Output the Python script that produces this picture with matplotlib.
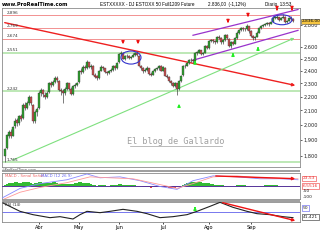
import matplotlib
matplotlib.use("Agg")
import matplotlib.pyplot as plt
from matplotlib.patches import Ellipse, Rectangle
from matplotlib.lines import Line2D
from matplotlib.ticker import NullLocator

# daily candles, 9 Mar - 30 Sep
opens = [1800, 1850, 1930, 1955, 1930, 1990, 2035, 2010, 2060, 2045, 2140, 2120, 2150, 2195, 2140, 2030, 2090,
         2115, 2230, 2250, 2215, 2200, 2235, 2300, 2290, 2310, 2345, 2320, 2250, 2240, 2230, 2260, 2300, 2255, 2220, 2280, 2290,
         2310, 2400, 2390, 2430, 2425, 2470, 2430, 2440, 2370, 2355, 2340, 2400, 2430, 2420, 2390, 2380, 2400, 2410, 2440, 2420,
         2470, 2540, 2550, 2500, 2520, 2525, 2505, 2515, 2535, 2545, 2525, 2440, 2420, 2400, 2410, 2420, 2375, 2370, 2400, 2415, 2420, 2440,
         2400, 2425, 2360, 2350, 2320, 2300, 2280, 2300, 2260, 2320, 2365, 2440, 2440, 2460, 2490, 2490, 2480, 2550, 2550, 2570, 2540, 2550, 2610,
         2590, 2650, 2660, 2650, 2640, 2690, 2680, 2640, 2660, 2710, 2675, 2610, 2640, 2630, 2680, 2730, 2750, 2770, 2760, 2760, 2790,
         2740, 2700, 2680, 2690, 2730, 2770, 2790, 2800, 2810, 2820, 2810, 2830, 2870, 2870, 2875, 2850, 2870, 2880, 2830, 2840, 2870, 2860]
highs = [1850, 1940, 1965, 1970, 1995, 2045, 2050, 2070, 2075, 2150, 2160, 2170, 2215, 2205, 2145, 2100, 2125,
         2240, 2265, 2260, 2235, 2245, 2310, 2320, 2325, 2355, 2360, 2330, 2265, 2255, 2275, 2310, 2305, 2270, 2290, 2305, 2315,
         2410, 2420, 2445, 2450, 2485, 2475, 2455, 2445, 2385, 2365, 2410, 2445, 2440, 2425, 2400, 2410, 2420, 2450, 2445, 2470,
         2550, 2565, 2555, 2530, 2540, 2535, 2525, 2545, 2560, 2555, 2530, 2450, 2430, 2425, 2440, 2425, 2390, 2410, 2425, 2430, 2450, 2445,
         2440, 2430, 2375, 2360, 2330, 2310, 2315, 2305, 2330, 2370, 2445, 2455, 2470, 2500, 2505, 2500, 2560, 2565, 2585, 2575, 2560, 2620, 2620,
         2660, 2675, 2670, 2660, 2700, 2705, 2685, 2670, 2720, 2715, 2680, 2650, 2650, 2690, 2740, 2765, 2785, 2780, 2775, 2805, 2795,
         2750, 2710, 2700, 2740, 2780, 2800, 2810, 2820, 2830, 2825, 2840, 2885, 2890, 2900, 2880, 2880, 2905, 2885, 2850, 2880, 2885, 2870]
lows = [1765, 1845, 1915, 1915, 1925, 1980, 1995, 2000, 2025, 2040, 2100, 2110, 2140, 2140, 2015, 2010, 2060,
        2110, 2205, 2200, 2180, 2190, 2225, 2270, 2280, 2300, 2315, 2240, 2210, 2150, 2215, 2250, 2250, 2210, 2215, 2265, 2280,
        2305, 2375, 2380, 2405, 2415, 2420, 2415, 2365, 2340, 2325, 2335, 2395, 2405, 2380, 2370, 2375, 2390, 2400, 2410, 2415,
        2465, 2530, 2495, 2490, 2505, 2495, 2495, 2510, 2525, 2520, 2435, 2410, 2385, 2390, 2400, 2365, 2355, 2365, 2390, 2405, 2410, 2395,
        2395, 2355, 2340, 2315, 2290, 2270, 2270, 2215, 2250, 2315, 2360, 2425, 2435, 2455, 2475, 2465, 2475, 2535, 2545, 2530, 2530, 2545, 2580,
        2585, 2640, 2635, 2625, 2635, 2670, 2630, 2630, 2655, 2670, 2600, 2595, 2615, 2625, 2675, 2720, 2740, 2745, 2740, 2755, 2730,
        2690, 2665, 2660, 2685, 2725, 2760, 2780, 2790, 2800, 2795, 2805, 2825, 2855, 2860, 2840, 2845, 2865, 2820, 2815, 2835, 2850, 2825]
closes = [1845, 1935, 1950, 1930, 1985, 2030, 2010, 2060, 2040, 2140, 2120, 2150, 2200, 2150, 2030, 2090, 2110,
          2230, 2250, 2220, 2200, 2230, 2300, 2290, 2310, 2340, 2330, 2250, 2240, 2230, 2260, 2300, 2260, 2220, 2280, 2290, 2300,
          2400, 2390, 2430, 2420, 2470, 2430, 2440, 2370, 2350, 2340, 2400, 2430, 2420, 2390, 2380, 2400, 2410, 2440, 2420, 2460,
          2540, 2550, 2500, 2520, 2525, 2505, 2515, 2535, 2545, 2530, 2440, 2420, 2400, 2410, 2425, 2375, 2370, 2400, 2415, 2420, 2440, 2400,
          2430, 2360, 2350, 2320, 2300, 2280, 2300, 2260, 2320, 2360, 2440, 2440, 2460, 2490, 2490, 2480, 2550, 2550, 2570, 2540, 2550, 2610, 2590,
          2650, 2660, 2650, 2640, 2690, 2680, 2640, 2660, 2710, 2680, 2610, 2640, 2630, 2680, 2730, 2750, 2770, 2760, 2760, 2790, 2740,
          2700, 2680, 2690, 2730, 2770, 2790, 2800, 2810, 2820, 2810, 2830, 2870, 2870, 2875, 2850, 2870, 2880, 2830, 2840, 2870, 2860, 2836]

month_pos = [17, 37, 57, 79, 102, 123]
month_labels = ["Abr", "May", "Jun", "Jul", "Ago", "Sep"]
price_ticks = [1800, 1900, 2000, 2100, 2200, 2300, 2400, 2500, 2600, 2800]

# hand drawn levels
red_levels = [2896, 2769, 2674]
green_levels = [2551, 2242, 1765]

# MACD (12,26,9)
macd_x = [-1.5, 7.5, 17.5, 31, 41, 47.5, 57.5, 67.5, 77.5, 86, 94, 104, 116, 127.5, 137.5, 146.5]
macd_y = [-13, -3, 2, 6, 12, 8, 9, 5, -1, -4, 5, 10, 9, 7, 7, 6]
signal_x = [-1.5, 7.5, 17.5, 31, 42.5, 52.5, 64, 77.5, 86, 94, 104, 116, 127.5, 146.5]
signal_y = [-15, -7, -2, 3, 9, 8, 7, 1, -3, 2, 9, 10, 8, 7]
hist = [1, 2, 3, 3, 3, 4, 4, 3, 3, 4, 4,
        4, 4, 3, 2, 3, 3, 4, 4, 3, 3,
        3, 3, 3, 4, 4, 3, 2, 2, 2, 2,
        2, 2, 2, 2, 3, 3, 4, 4, 3, 3, 3, 3,
        2, 1, 1, 0, 1, 1, 1, 1, 0, 0, 1, 1, 1, 1,
        2, 2, 1, 1, 1, 1, 1, 1, 1, 0,
        -1, -1, -2, -2, -2, -2, -3, -2, -2, -2, -1, -1,
        -1, -2, -2, -3, -3, -3, -3, -2,
        -1, 0, 1, 2, 3, 3, 4, 4, 4, 4, 4, 4, 3, 3, 3, 3, 2, 2,
        1, 1, 1, 1, 1, 0, 0, -1, -1, 0, 0, 1, 1, 1, 1, 1, 0, 0, -1, -1,
        -1, -1, 0, 0, 0, 1, 1, 1, 1, 1, 1, 1, 0, 0, 0, 0, -1, -1, -1, -1]

# RSI (14)
rsi_x = [-1, 7.5, 14, 22.5, 27.5, 34, 37.5, 41, 47.5, 52.5, 59, 66, 71, 77.5, 84, 91, 96, 102.5, 107.5, 114, 121, 126, 132.5, 139, 144]
rsi_y = [77, 52, 42, 33, 36, 29, 42, 52, 48, 52, 58, 52, 45, 33, 36, 42, 52, 67, 79, 64, 52, 45, 42, 36, 33]

W, H = 320, 240
fig = plt.figure(figsize=(3.2, 2.4), dpi=100)
fig.patch.set_facecolor("white")


def box(x0, y0, x1, y1):
    return [x0 / W, 1 - y1 / H, (x1 - x0) / W, (y1 - y0) / H]


ax = fig.add_axes(box(2, 8, 300, 167))
ax_m = fig.add_axes(box(2, 173, 300, 199))
ax_r = fig.add_axes(box(2, 202, 300, 222))

for a in [ax, ax_m, ax_r]:
    a.set_xlim(-1.5, 147.5)
    for s in a.spines.values():
        s.set_color("#8a8a8a")
        s.set_linewidth(0.6)
    a.set_xticks([])
    a.tick_params(axis="y", labelsize=3.6, length=1.5, width=0.5, pad=0.8, colors="#222222")
    a.yaxis.tick_right()

# --- price panel
ax.set_yscale("log")
ax.set_ylim(1736, 2965)
ax.yaxis.set_minor_locator(NullLocator())
ax.set_yticks(price_ticks)
ax.set_yticklabels(["{:,}".format(v) for v in price_ticks])

for v in red_levels:
    ax.axhline(v, color="#f08080", lw=0.6, zorder=1)
    ax.text(1, v * 1.004, "{:,}".format(v), fontsize=3, color="#333333", zorder=5)
for v in green_levels:
    ax.axhline(v, color="#b8e6b0", lw=1.3, zorder=1)
    ax.text(1, v * 1.004, "{:,}".format(v), fontsize=3, color="#333333", zorder=5)

for i, (o, h, l, c) in enumerate(zip(opens, highs, lows, closes)):
    ax.vlines(i, l, h, color="#333333", lw=0.45, zorder=3)
    col = "#2ea02e" if c >= o else "#c85050"
    ax.bar(i, max(abs(c - o), 3), bottom=min(o, c), width=0.75, color=col,
           edgecolor="#333333", linewidth=0.25, zorder=4)

# trend lines
ax.annotate("", xy=(146.5, 2280), xytext=(-1.5, 2828),
            arrowprops=dict(arrowstyle="-|>", color="#ee2020", lw=1.0, mutation_scale=4), zorder=2)
ax.annotate("", xy=(146, 2690), xytext=(2.5, 1770),
            arrowprops=dict(arrowstyle="-|>", color="#7ee07e", lw=0.8, mutation_scale=4), zorder=2)
ax.plot([94, 146.5], [2705, 2950], color="#9933cc", lw=0.9, zorder=2)
ax.plot([94, 146.5], [2487, 2750], color="#9933cc", lw=0.9, zorder=2)

ax.add_patch(Ellipse((63, 2510), 10, 110, fill=False, edgecolor="#3333cc", lw=0.8, zorder=6))
ax.add_patch(Ellipse((138.5, 2850), 10, 95, fill=False, edgecolor="#3333cc", lw=0.8, zorder=6))

red_arrows = [(59, 2600, 2681), (66.5, 2600, 2681), (111.5, 2793, 2866), (121.5, 2850, 2918),
              (136, 2918, 2975), (143.5, 2918, 2975)]
for x, tip, tail in red_arrows:
    ax.annotate("", xy=(x, tip), xytext=(x, tail), annotation_clip=False,
                arrowprops=dict(arrowstyle="-|>", color="#ee1111", lw=0.9, mutation_scale=4), zorder=7)
green_arrows = [(87, 2168, 2104), (95, 2508, 2447), (114, 2574, 2515), (126.5, 2627, 2566)]
for x, tip, tail in green_arrows:
    ax.annotate("", xy=(x, tip), xytext=(x, tail),
                arrowprops=dict(arrowstyle="-|>", color="#22ee22", lw=0.9, mutation_scale=4), zorder=7)

ax.text(0.0, -0.005, "\u00a9ProRealTime.com", transform=ax.transAxes, fontsize=2.6, color="#555555", va="top")

# watermark
fig.text(176 / W, 1 - 141 / H, "El blog de Gallardo", fontsize=6.1, family="DejaVu Sans Mono",
         color="#a0a0a0", ha="center", va="center")
fig.add_artist(Line2D([130 / W, 222 / W], [1 - 145.5 / H] * 2, color="#a0a0a0", lw=0.5))

# last price box
ax.text(1.004, ax.transAxes.inverted().transform(ax.transData.transform((0, 2836)))[1], "2,836,00",
        transform=ax.transAxes, fontsize=3.1, va="center", ha="left", zorder=10,
        bbox=dict(boxstyle="square,pad=0.12", fc="#f5c542", ec="#555555", lw=0.4))

# --- MACD panel
ax_m.set_ylim(-14, 13)
ax_m.set_yticks([])
ax_m.bar(range(len(hist)), hist, width=0.8, color=["#33bb33" if v > 0 else "#dd4444" for v in hist], zorder=2)
ax_m.axhline(0, color="#553399", lw=0.7, zorder=3)
ax_m.plot(macd_x, macd_y, color="#8888ff", lw=0.6, zorder=4)
ax_m.plot(signal_x, signal_y, color="#ff9999", lw=0.6, zorder=4)
ax_m.annotate("", xy=(146.5, 7), xytext=(104, 10),
              arrowprops=dict(arrowstyle="-|>", color="#ee1111", lw=1.0, mutation_scale=4), zorder=5)
ax_m.text(0.01, 0.97, "MACD - Senal Señal", transform=ax_m.transAxes, fontsize=2.8, color="#ee6666", va="top")
ax_m.text(0.13, 0.97, "MACD (12 26 9)", transform=ax_m.transAxes, fontsize=2.8, color="#6666ee", va="top")
ax_m.text(1.01, 0.80, "23,53", transform=ax_m.transAxes, fontsize=3.2, color="#ee3333", va="center",
          bbox=dict(boxstyle="square,pad=0.15", fc="white", ec="#ee3333", lw=0.4))
ax_m.text(1.01, 0.50, "6,5516", transform=ax_m.transAxes, fontsize=3.2, color="#ee3333", va="center",
          bbox=dict(boxstyle="square,pad=0.15", fc="white", ec="#ee3333", lw=0.4))
ax_m.text(1.01, 0.30, "-50", transform=ax_m.transAxes, fontsize=3.2, color="#222222", va="center")
ax_m.text(1.01, 0.06, "-100", transform=ax_m.transAxes, fontsize=3.2, color="#222222", va="center")

# --- RSI panel
ax_r.set_ylim(20, 80)
ax_r.set_yticks([])
ax_r.axhline(50, color="#7777ee", lw=0.7)
ax_r.plot(rsi_x, rsi_y, color="#222222", lw=0.8, zorder=3)
ax_r.annotate("", xy=(146.5, 22), xytext=(107.5, 80),
              arrowprops=dict(arrowstyle="-|>", color="#ee1111", lw=1.0, mutation_scale=4), zorder=5)
ax_r.annotate("", xy=(95, 74), xytext=(95, 54),
              arrowprops=dict(arrowstyle="-|>", color="#22ee22", lw=0.9, mutation_scale=4), zorder=5)
ax_r.text(0.01, 0.95, "RSI (14)", transform=ax_r.transAxes, fontsize=2.8, color="#222222", va="top")
ax_r.text(1.01, 0.70, "50", transform=ax_r.transAxes, fontsize=3.2, color="#222222", va="center",
          bbox=dict(boxstyle="square,pad=0.15", fc="white", ec="#5555ee", lw=0.4))
ax_r.text(1.01, 0.25, "41,421", transform=ax_r.transAxes, fontsize=3.2, color="#222222", va="center",
          bbox=dict(boxstyle="square,pad=0.15", fc="white", ec="#222222", lw=0.4))
ax_r.set_xticks(month_pos)
ax_r.set_xticklabels(month_labels)
ax_r.tick_params(axis="x", labelsize=3.6, length=1.5, width=0.5, pad=0.8)

# separator bars
for y0 in [169.5, 199.5]:
    fig.add_artist(Rectangle((2 / W, 1 - (y0 + 2.5) / H), 298 / W, 2.5 / H, transform=fig.transFigure,
                             fc="#a0a0a0", ec="none"))

# header
fig.text(2 / W, 1 - 4.5 / H, "www.ProRealTime.com", fontsize=3.7, weight="bold", va="center")
hdr = dict(fontsize=3.3, family="Liberation Sans", va="center")
fig.text(100 / W, 1 - 4.5 / H, "ESTXXXXX - DJ ESTOXX 50 Full1209 Future", **hdr)
fig.text(208 / W, 1 - 4.5 / H, "2.836,00  (-1,12%)", **hdr)
fig.text(265 / W, 1 - 4.5 / H, "Diario  13:53", **hdr)

fig.savefig("out.png", dpi=100)
